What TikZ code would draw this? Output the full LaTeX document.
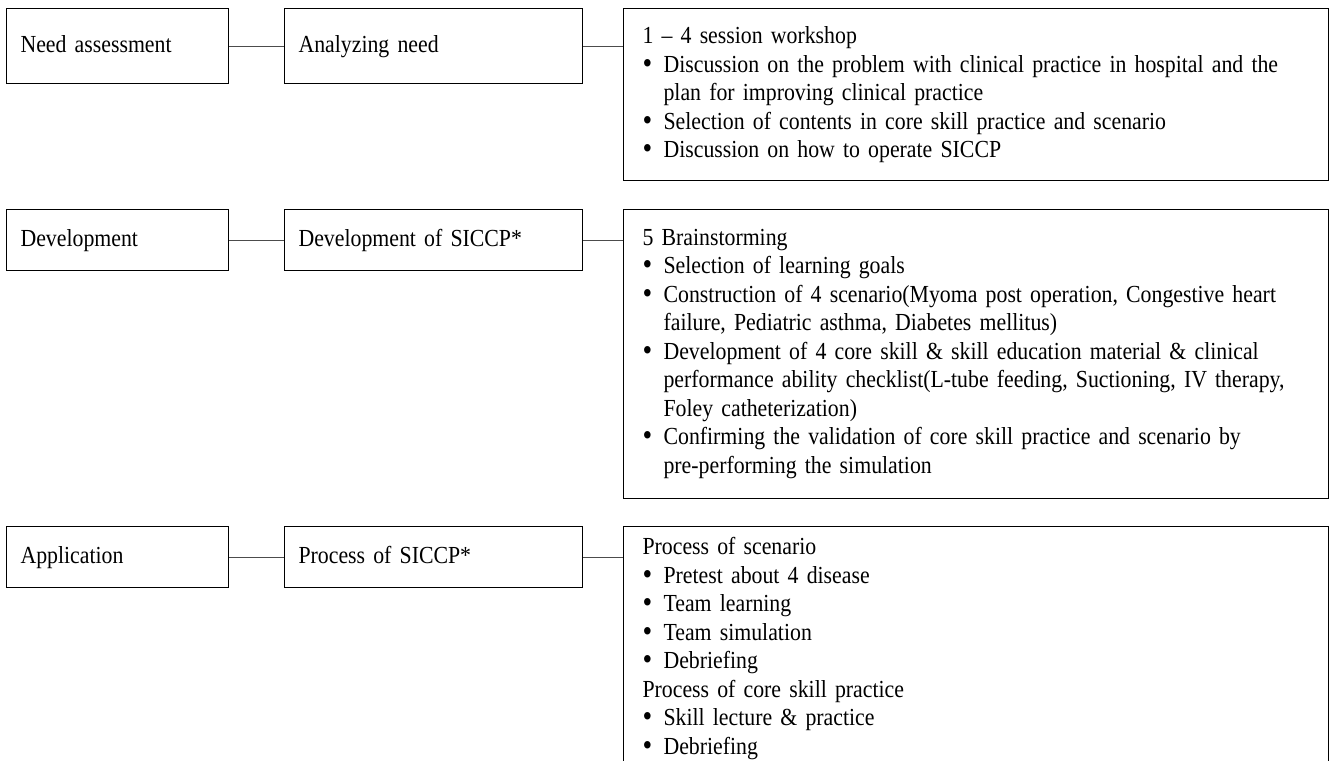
\documentclass[tikz,border=0pt]{standalone}
\usepackage{fontspec}
\setmainfont[FakeStretch=0.89]{Liberation Serif}

\newcommand{\txt}{\fontsize{24.5pt}{28.5pt}\selectfont\spaceskip=12pt plus 3pt minus 2pt\relax}
\newcommand{\bul}{\makebox[21pt][l]{\raisebox{-1pt}{\fontsize{31pt}{28.5pt}\selectfont\textbullet}}}
\newcommand{\ind}{\hspace*{21pt}}

\begin{document}
\begin{tikzpicture}[x=1pt, y=-1pt,
    box/.style={draw, line width=1.1pt, anchor=north west, align=left, font=\txt},
    phase/.style={box, text width=194pt, inner xsep=14pt, inner ysep=0pt,
      text height=17pt, text depth=5pt},
    task/.style={phase, text width=270pt},
    detail/.style={box, text width=667pt, inner xsep=19pt},
    link/.style={draw=black!70, line width=1pt}]

\useasboundingbox (0,0) rectangle (1332,760);
\clip (0,0) rectangle (1332,760);

% need assessment
\node[phase, minimum height=75pt] (need) at (6,8) {Need assessment};
\node[task, minimum height=75pt] (analyze) at (284,8) {Analyzing need};
\node[detail, inner ysep=18pt] (workshop) at (623,8) {1 – 4 session workshop\\
\bul Discussion on the problem with clinical practice in hospital and the\\
\ind plan for improving clinical practice\\
\bul Selection of contents in core skill practice and scenario\\
\bul Discussion on how to operate SICCP};

% development
\node[phase, minimum height=61pt] (devel) at (6,209) {Development};
\node[task, minimum height=61pt] (develop) at (284,209) {Development of SICCP*};
\node[detail, inner ysep=19.5pt] (brainstorm) at (623,209) {5 Brainstorming\\
\bul Selection of learning goals\\
\bul Construction of 4 scenario(Myoma post operation, Congestive heart\\
\ind failure, Pediatric asthma, Diabetes mellitus)\\
\bul Development of 4 core skill \& skill education material \& clinical\\
\ind performance ability checklist(L-tube feeding, Suctioning, IV therapy,\\
\ind Foley catheterization)\\
\bul Confirming the validation of core skill practice and scenario by\\
\ind pre-performing the simulation};

% application
\node[phase, minimum height=61pt] (apply) at (6,526) {Application};
\node[task, minimum height=61pt] (process) at (284,526) {Process of SICCP*};
\node[detail, inner ysep=11pt] (scenario) at (623,526) {Process of scenario\\
\bul Pretest about 4 disease\\
\bul Team learning\\
\bul Team simulation\\
\bul Debriefing\\
Process of core skill practice\\
\bul Skill lecture \& practice\\
\bul Debriefing};

\draw[link] (need) -- (analyze);
\draw[link] (analyze.east) -- (analyze.east -| workshop.west);
\draw[link] (devel) -- (develop);
\draw[link] (develop.east) -- (develop.east -| brainstorm.west);
\draw[link] (apply) -- (process);
\draw[link] (process.east) -- (process.east -| scenario.west);
\end{tikzpicture}
\end{document}
